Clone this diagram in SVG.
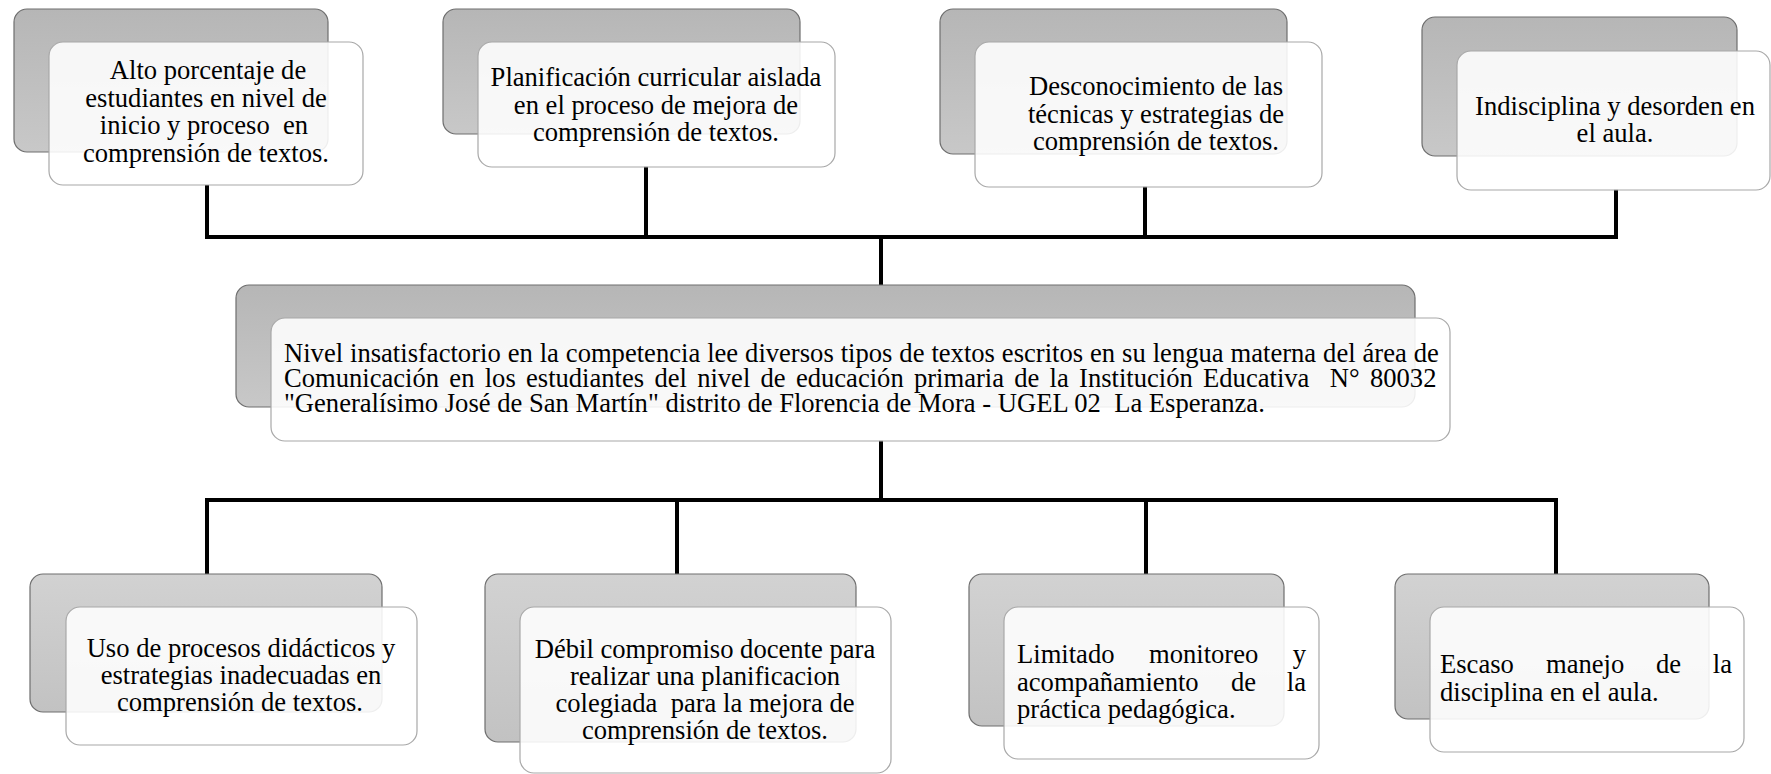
<svg xmlns="http://www.w3.org/2000/svg" width="1771" height="774" viewBox="0 0 1771 774">
<defs>
<linearGradient id="gTop" x1="0" y1="0" x2="0" y2="1">
<stop offset="0" stop-color="#b6b6b6"/>
<stop offset="1" stop-color="#c8c8c8"/>
</linearGradient>
<linearGradient id="gBot" x1="0" y1="0" x2="0" y2="1">
<stop offset="0" stop-color="#d2d2d2"/>
<stop offset="1" stop-color="#c2c2c2"/>
</linearGradient>
<style>
.back{fill:url(#gTop);stroke:#6e6e6e;stroke-width:1.2}
.backb{fill:url(#gBot);stroke:#6e6e6e;stroke-width:1.2}
.front{fill:#ffffff;fill-opacity:0.88;stroke:#a8a8a8;stroke-width:1.2}
.t{font-family:"Liberation Serif","Times New Roman",serif;font-size:26.6px;fill:#000}
.c{text-anchor:middle}
.e{text-anchor:end}
.conn{stroke:#000;stroke-width:4;fill:none;stroke-linecap:square}
</style>
</defs>
<rect width="1771" height="774" fill="#ffffff"/>
<g id="connectors">
<path class="conn" d="M207,187 V237 H1616 V191"/>
<path class="conn" d="M646,168 V237"/>
<path class="conn" d="M1145,188 V237"/>
<path class="conn" d="M881,237 V285"/>
<path class="conn" d="M881,442 V500"/>
<path class="conn" d="M207,573 V500 H1556 V573"/>
<path class="conn" d="M677,500 V573"/>
<path class="conn" d="M1146,500 V573"/>
</g>
<g id="node1">
<rect class="back" x="14" y="9" width="314" height="143" rx="13"/>
<rect class="front" x="49" y="42" width="314" height="143" rx="14"/>
<text class="t c" x="208" y="79">Alto porcentaje de</text>
<text class="t c" x="206" y="106.5">estudiantes en nivel de</text>
<text class="t c" x="204" y="134" xml:space="preserve">inicio y proceso  en</text>
<text class="t c" x="206" y="161.5">comprensión de textos.</text>
</g>
<g id="node2">
<rect class="back" x="443" y="9" width="357" height="125" rx="13"/>
<rect class="front" x="478" y="42" width="357" height="125" rx="14"/>
<text class="t c" x="656" y="86">Planificación curricular aislada</text>
<text class="t c" x="656" y="113.5">en el proceso de mejora de</text>
<text class="t c" x="656" y="141">comprensión de textos.</text>
</g>
<g id="node3">
<rect class="back" x="940" y="9" width="347" height="145" rx="13"/>
<rect class="front" x="975" y="42" width="347" height="145" rx="14"/>
<text class="t c" x="1156" y="95">Desconocimiento de las</text>
<text class="t c" x="1156" y="122.5">técnicas y estrategias de</text>
<text class="t c" x="1156" y="150">comprensión de textos.</text>
</g>
<g id="node4">
<rect class="back" x="1422" y="17" width="315" height="139" rx="13"/>
<rect class="front" x="1457" y="51" width="313" height="139" rx="14"/>
<text class="t c" x="1615" y="115">Indisciplina y desorden en</text>
<text class="t c" x="1615" y="142">el aula.</text>
</g>
<g id="center">
<rect class="back" x="236" y="285" width="1179" height="122" rx="13"/>
<rect class="front" x="271" y="318" width="1179" height="123" rx="14"/>
<text class="t" x="284" y="362" style="word-spacing:0.3px">Nivel insatisfactorio en la competencia lee diversos tipos de textos escritos en su lengua materna del área de</text>
<text class="t" x="284" y="387" xml:space="preserve" style="word-spacing:3.6px">Comunicación en los estudiantes del nivel de educación primaria de la Institución Educativa  N° 80032</text>
<text class="t" x="284" y="412" xml:space="preserve">"Generalísimo José de San Martín" distrito de Florencia de Mora - UGEL 02  La Esperanza.</text>
</g>
<g id="node5">
<rect class="backb" x="30" y="574" width="352" height="138" rx="13"/>
<rect class="front" x="66" y="607" width="351" height="138" rx="14"/>
<text class="t c" x="241" y="657">Uso de procesos didácticos y</text>
<text class="t c" x="241" y="684">estrategias inadecuadas en</text>
<text class="t c" x="240" y="711">comprensión de textos.</text>
</g>
<g id="node6">
<rect class="backb" x="485" y="574" width="371" height="168" rx="13"/>
<rect class="front" x="520" y="607" width="371" height="166" rx="14"/>
<text class="t c" x="705" y="658">Débil compromiso docente para</text>
<text class="t c" x="705" y="685">realizar una planificacion</text>
<text class="t c" x="705" y="712" xml:space="preserve">colegiada  para la mejora de</text>
<text class="t c" x="705" y="739">comprensión de textos.</text>
</g>
<g id="node7">
<rect class="backb" x="969" y="574" width="315" height="152" rx="13"/>
<rect class="front" x="1004" y="607" width="315" height="152" rx="14"/>
<text class="t" x="1017" y="663">Limitado</text>
<text class="t" x="1149" y="663">monitoreo</text>
<text class="t e" x="1306" y="663">y</text>
<text class="t" x="1017" y="690.5">acompañamiento</text>
<text class="t" x="1231" y="690.5">de</text>
<text class="t e" x="1306" y="690.5">la</text>
<text class="t" x="1017" y="718">práctica pedagógica.</text>
</g>
<g id="node8">
<rect class="backb" x="1395" y="574" width="314" height="145" rx="13"/>
<rect class="front" x="1430" y="607" width="314" height="145" rx="14"/>
<text class="t" x="1440" y="673">Escaso</text>
<text class="t" x="1546" y="673">manejo</text>
<text class="t" x="1656" y="673">de</text>
<text class="t e" x="1732" y="673">la</text>
<text class="t" x="1440" y="701">disciplina en el aula.</text>
</g>
</svg>
